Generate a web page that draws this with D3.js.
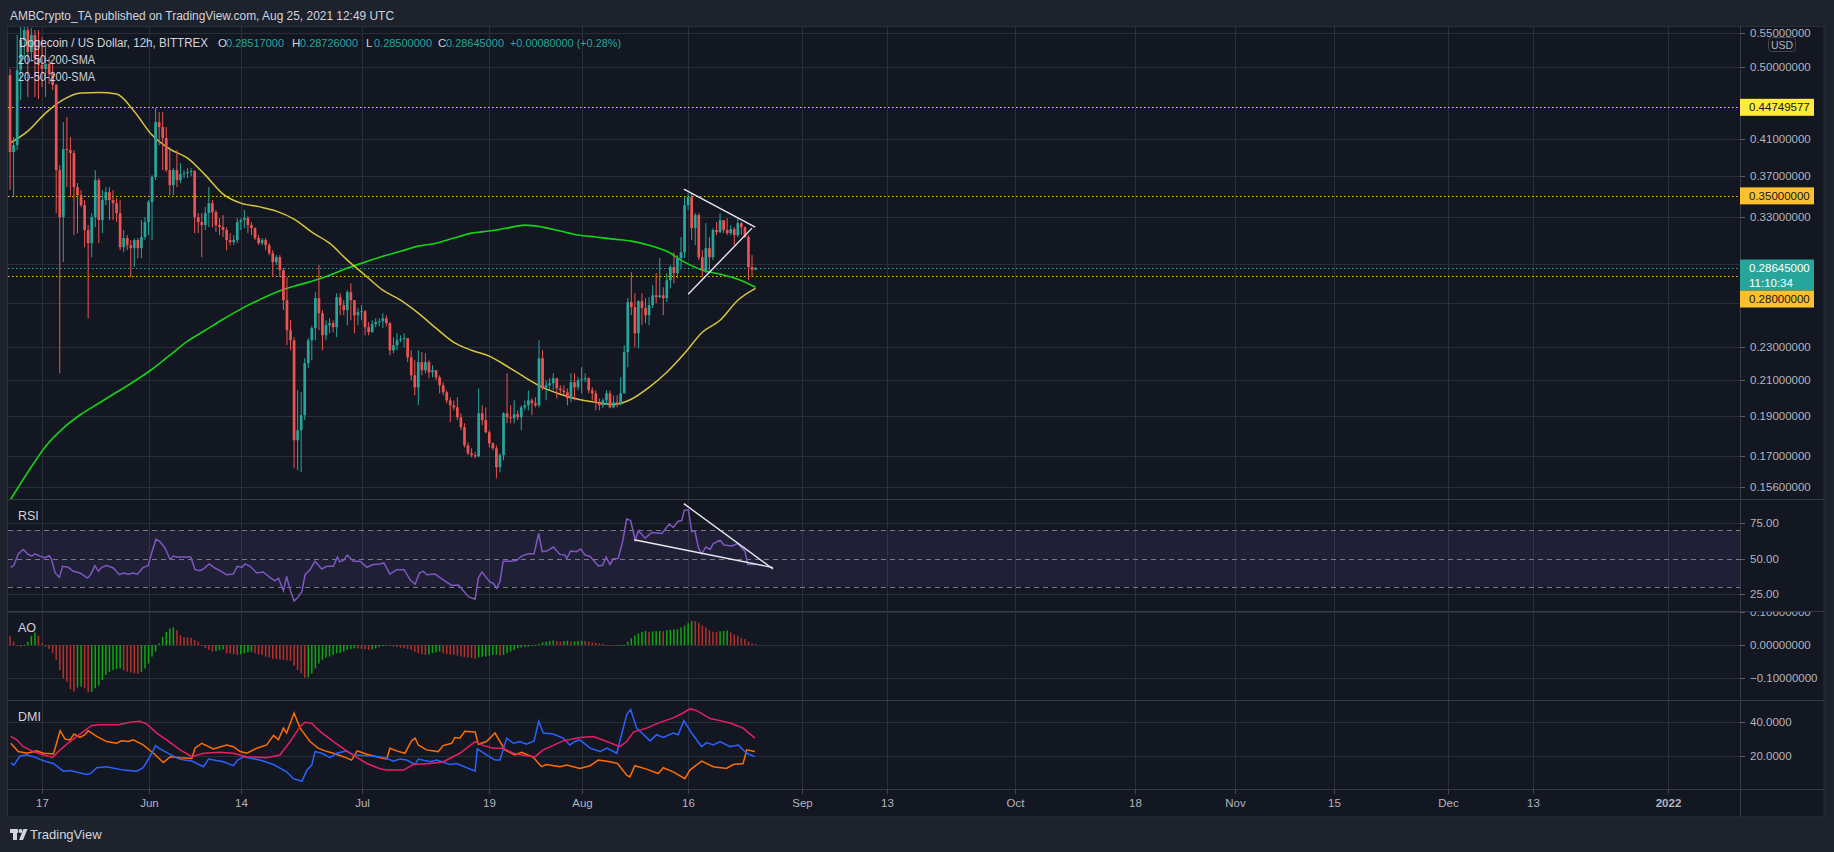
<!DOCTYPE html>
<html><head><meta charset="utf-8">
<script src="https://cdn.jsdelivr.net/npm/d3@7"></script>
<style>
html,body{margin:0;padding:0;background:#1e222d;overflow:hidden;}
svg{display:block;}
text{font-family:"Liberation Sans",Arial,sans-serif;}
</style></head><body>
<svg id="c" width="1834" height="852"></svg>
<script>
// ---------------- DATA ----------------
// 12h bars, bar 0 = 2021-05-12 12:00 UTC ... bar 210 = 2021-08-25 12:00 UTC
const firstOpen = 0.4895; // later opens = previous close (24/7 market)
const closes = [0.3952,0.4029,0.4964,0.5394,0.5546,0.5218,0.5470,0.5132,0.5033,0.4978,
0.5047,0.4909,0.4760,0.3759,0.3299,0.3985,0.3974,0.3941,0.3586,0.3507,
0.3411,0.3183,0.3069,0.3299,0.3656,0.3272,0.3459,0.3536,0.3459,0.3430,
0.3336,0.3035,0.3113,0.3052,0.3027,0.3096,0.3027,0.3122,0.3254,0.3440,
0.3687,0.4295,0.4236,0.4108,0.3759,0.3606,0.3759,0.3656,0.3718,0.3728,
0.3738,0.3749,0.3299,0.3254,0.3227,0.3336,0.3430,0.3345,0.3227,0.3209,
0.3183,0.3096,0.3078,0.3096,0.3254,0.3272,0.3290,0.3227,0.3200,0.3113,
0.3069,0.3096,0.3052,0.2985,0.2912,0.2952,0.2848,0.2620,0.2410,0.2344,
0.1776,0.1826,0.1904,0.2199,0.2344,0.2424,0.2635,0.2527,0.2377,0.2444,
0.2458,0.2431,0.2642,0.2584,0.2549,0.2679,0.2620,0.2513,0.2534,0.2541,
0.2431,0.2397,0.2451,0.2465,0.2471,0.2492,0.2458,0.2280,0.2312,0.2344,
0.2351,0.2358,0.2236,0.2127,0.2057,0.2206,0.2157,0.2206,0.2145,0.2157,
0.2115,0.2069,0.2029,0.1984,0.1957,0.1946,0.1893,0.1842,0.1751,0.1713,
0.1704,0.1699,0.1914,0.1878,0.1816,0.1761,0.1737,0.1648,0.1704,0.1914,
0.1893,0.1888,0.1909,0.1893,0.1946,0.1957,0.1984,0.1968,0.1957,0.2230,
0.2057,0.2069,0.2080,0.2110,0.2051,0.2040,0.2029,0.1995,0.2086,0.2057,
0.2098,0.2104,0.2110,0.2040,0.2023,0.1973,0.1957,0.1984,0.2023,0.1946,
0.1973,0.1962,0.2023,0.2268,0.2606,0.2570,0.2390,0.2613,0.2563,0.2513,
0.2584,0.2656,0.2642,0.2656,0.2635,0.2769,0.2872,0.2824,0.2944,0.2993,
0.3411,0.3488,0.3200,0.3318,0.2952,0.2848,0.3027,0.2952,0.3183,0.3165,
0.3272,0.3183,0.3156,0.3191,0.3139,0.3245,0.3209,0.3122,0.2872,0.28517,
0.28645];
const highs = [0.4978,0.4120,0.5470,0.5592,0.5700,0.5650,0.5577,0.5546,0.5546,0.5439,
0.5291,0.5146,0.5075,0.4774,0.3812,0.4295,0.4355,0.4120,0.3974,0.3626,
0.3556,0.3459,0.3227,0.3336,0.3759,0.3677,0.3556,0.3586,0.3586,0.3556,
0.3478,0.3459,0.3183,0.3139,0.3096,0.3110,0.3113,0.3272,0.3299,0.3459,
0.3707,0.4466,0.4416,0.4416,0.4236,0.4007,0.3780,0.3974,0.3833,0.3759,
0.3780,0.3780,0.3759,0.3336,0.3336,0.3392,0.3586,0.3459,0.3364,0.3290,
0.3318,0.3209,0.3156,0.3139,0.3290,0.3290,0.3364,0.3309,0.3254,0.3209,
0.3139,0.3113,0.3113,0.3069,0.3010,0.2969,0.2969,0.2864,0.2793,0.2478,
0.2364,0.2040,0.2029,0.2230,0.2358,0.2440,0.2679,0.2888,0.2549,0.2478,
0.2492,0.2478,0.2671,0.2671,0.2620,0.2694,0.2746,0.2620,0.2563,0.2584,
0.2549,0.2465,0.2478,0.2492,0.2492,0.2527,0.2513,0.2465,0.2364,0.2390,
0.2377,0.2390,0.2358,0.2280,0.2218,0.2280,0.2268,0.2261,0.2218,0.2187,
0.2157,0.2127,0.2086,0.2040,0.2001,0.1984,0.2001,0.1914,0.1862,0.1766,
0.1737,0.1718,0.2051,0.1957,0.1946,0.1826,0.1766,0.1751,0.1713,0.1920,
0.2139,0.1957,0.1984,0.1930,0.1957,0.1984,0.2040,0.1995,0.2001,0.2344,
0.2280,0.2098,0.2110,0.2139,0.2110,0.2069,0.2069,0.2051,0.2139,0.2139,
0.2115,0.2175,0.2139,0.2115,0.2057,0.2040,0.1995,0.1995,0.2040,0.2040,
0.2012,0.2012,0.2115,0.2312,0.2635,0.2832,0.2671,0.2620,0.2671,0.2635,
0.2642,0.2731,0.2824,0.2944,0.2716,0.2824,0.2888,0.2993,0.2969,0.3122,
0.3488,0.3526,0.3526,0.3336,0.3336,0.3010,0.3245,0.3122,0.3200,0.3254,
0.3336,0.3272,0.3290,0.3227,0.3209,0.3290,0.3254,0.3215,0.3139,0.2969,
0.28726];
const lows = [0.3556,0.3488,0.3974,0.4566,0.5103,0.4605,0.5103,0.4605,0.4579,0.4734,
0.4605,0.4774,0.4695,0.3336,0.2139,0.2912,0.3586,0.3488,0.3139,0.3156,
0.3392,0.3035,0.2492,0.2952,0.3209,0.3069,0.3156,0.3411,0.3272,0.3272,
0.3254,0.3010,0.2993,0.3010,0.2793,0.2872,0.2944,0.2944,0.3096,0.3139,
0.3096,0.3656,0.4029,0.3759,0.3740,0.3507,0.3507,0.3586,0.3626,0.3677,
0.3677,0.3697,0.3156,0.3156,0.2952,0.3183,0.3209,0.3209,0.3165,0.3139,
0.3122,0.3010,0.3052,0.3052,0.3069,0.3183,0.3200,0.3156,0.3139,0.3096,
0.3052,0.3052,0.3010,0.2969,0.2793,0.2888,0.2793,0.2549,0.2312,0.2280,
0.1643,0.1634,0.1625,0.1878,0.2169,0.2218,0.2344,0.2410,0.2280,0.2344,
0.2390,0.2397,0.2364,0.2513,0.2513,0.2444,0.2478,0.2390,0.2444,0.2478,
0.2377,0.2377,0.2397,0.2431,0.2437,0.2424,0.2437,0.2249,0.2261,0.2280,
0.2331,0.2299,0.2206,0.2098,0.2012,0.1957,0.2127,0.2139,0.2110,0.2115,
0.2098,0.2023,0.2012,0.1968,0.1867,0.1930,0.1878,0.1826,0.1742,0.1704,
0.1694,0.1689,0.1694,0.1852,0.1811,0.1742,0.1727,0.1598,0.1625,0.1680,
0.1862,0.1862,0.1862,0.1878,0.1826,0.1930,0.1930,0.1904,0.1946,0.1946,
0.2040,0.1984,0.2040,0.2040,0.1995,0.2023,0.2012,0.1957,0.1973,0.1984,
0.2040,0.2023,0.2086,0.2023,0.1984,0.1930,0.1930,0.1941,0.1957,0.1941,
0.1941,0.1946,0.1957,0.2023,0.2175,0.2513,0.2299,0.2293,0.2444,0.2458,
0.2444,0.2563,0.2598,0.2635,0.2513,0.2606,0.2708,0.2746,0.2785,0.2864,
0.2944,0.3364,0.3096,0.3052,0.2928,0.2793,0.2824,0.2848,0.2928,0.3139,
0.3156,0.3156,0.3139,0.3139,0.3052,0.3122,0.3139,0.3113,0.2769,0.2793,
0.2850];
// SMA lines, read every 5 bars (bar 0,5,...,210)
const sma50 = [0.4052,0.4189,0.4404,0.4572,0.4656,0.4662,0.4643,0.4423,0.4143,0.3985,
0.3886,0.3707,0.3517,0.3430,0.3397,0.3355,0.3281,0.3165,0.3069,0.2928,
0.2808,0.2694,0.2620,0.2527,0.2424,0.2331,0.2280,0.2243,0.2181,0.2115,
0.2057,0.2018,0.1990,0.1973,0.1962,0.1990,0.2057,0.2145,0.2261,0.2397,
0.2478,0.2620,0.2708];
const sma200 = [0.1503,0.1625,0.1746,0.1837,0.1909,0.1968,0.2029,0.2092,0.2163,0.2249,
0.2338,0.2410,0.2485,0.2556,0.2620,0.2679,0.2723,0.2761,0.2808,0.2864,
0.2912,0.2960,0.3001,0.3044,0.3069,0.3113,0.3156,0.3174,0.3200,0.3227,
0.3209,0.3174,0.3139,0.3122,0.3104,0.3087,0.3052,0.3001,0.2912,0.2848,
0.2816,0.2777,0.2716];
// RSI points [bar, value]
const rsi = [[0.2,43.8],[1.1,45.2],[2.3,53.3],[3.7,56.4],[5.1,52.9],[6.1,51.7],[7.0,53.3],[8.4,51.7],[9.8,50.5],[11.1,51.9],[11.7,49.3],[12.7,39.8],[13.9,36.7],[14.8,44.5],[16.4,43.8],[17.8,41.0],[19.7,39.8],[21.8,36.2],[22.7,38.6],[23.9,45.0],[24.9,41.0],[25.8,43.8],[27.2,45.0],[29.1,43.3],[30.8,38.6],[31.9,39.8],[33.3,39.0],[34.7,39.8],[35.9,39.0],[37.5,43.8],[38.9,45.0],[39.9,54.0],[41.1,63.6],[42.2,61.9],[43.6,57.6],[45.1,49.3],[46.0,51.7],[46.9,51.0],[48.4,51.0],[50.9,51.0],[52.1,42.1],[53.5,41.4],[54.6,42.9],[56.1,46.2],[57.7,43.3],[59.1,41.4],[61.0,38.6],[62.9,39.0],[64.0,44.5],[65.3,43.8],[66.2,46.2],[67.6,44.5],[69.5,39.8],[71.3,40.5],[73.2,36.7],[74.6,34.3],[75.6,36.2],[77.0,27.1],[77.9,37.4],[78.9,27.9],[80.0,20.0],[81.2,23.1],[82.2,26.7],[83.1,38.6],[84.5,42.1],[85.9,48.1],[87.8,42.6],[89.2,44.5],[91.1,44.5],[92.2,51.0],[92.9,47.6],[93.9,48.6],[95.0,52.4],[96.7,48.1],[98.6,48.1],[100.5,43.8],[102.3,45.7],[104.2,46.2],[105.3,46.9],[107.0,39.0],[108.9,42.1],[111.0,42.1],[112.7,35.0],[114.1,31.9],[115.3,39.8],[116.4,41.0],[117.4,38.6],[119.7,39.0],[122.0,35.0],[124.4,31.0],[126.3,31.4],[129.1,23.1],[131.0,21.4],[131.9,36.2],[132.9,40.5],[135.2,33.3],[136.1,32.6],[137.1,29.0],[138.0,33.8],[138.9,48.1],[140.8,48.1],[142.7,48.6],[144.1,51.7],[146.0,53.3],[147.6,53.3],[148.9,67.6],[149.9,54.8],[151.2,55.2],[153.0,58.1],[154.9,52.9],[156.3,52.4],[156.8,50.0],[157.9,55.2],[159.6,54.8],[160.7,56.7],[162.0,52.4],[163.4,51.4],[165.7,44.8],[166.9,45.2],[167.9,51.0],[169.0,45.7],[169.9,49.8],[171.3,50.0],[172.6,62.4],[173.7,77.9],[174.8,76.7],[176.1,62.9],[177.0,69.5],[178.9,64.3],[180.7,68.3],[183.6,67.6],[185.7,74.3],[186.8,71.9],[188.2,76.2],[189.2,76.7],[189.9,83.8],[191.1,84.3],[192.0,69.0],[192.9,69.5],[193.9,57.6],[194.8,53.3],[196.0,58.1],[197.2,56.4],[198.1,60.5],[200.0,62.9],[201.1,59.5],[203.3,58.8],[204.9,60.5],[207.0,55.2],[207.8,45.7],[210,45.7]];
// Awesome Oscillator, one value per bar
const ao = [0.028,0.010,-0.002,-0.005,-0.003,0.010,0.028,0.038,0.028,0.005,
-0.005,-0.012,-0.025,-0.045,-0.076,-0.101,-0.111,-0.134,-0.141,-0.129,
-0.126,-0.131,-0.143,-0.142,-0.131,-0.123,-0.106,-0.091,-0.081,-0.076,
-0.073,-0.071,-0.076,-0.081,-0.083,-0.086,-0.087,-0.081,-0.071,-0.056,
-0.035,-0.020,0.005,0.025,0.040,0.050,0.053,0.045,0.030,0.024,
0.023,0.022,0.015,0.010,0.000,-0.010,-0.015,-0.020,-0.019,-0.016,
-0.014,-0.025,-0.026,-0.028,-0.030,-0.028,-0.025,-0.022,-0.021,-0.025,
-0.028,-0.030,-0.035,-0.038,-0.042,-0.043,-0.044,-0.045,-0.046,-0.048,
-0.063,-0.076,-0.086,-0.099,-0.098,-0.086,-0.071,-0.056,-0.045,-0.038,
-0.035,-0.030,-0.025,-0.024,-0.020,-0.015,-0.012,-0.010,-0.011,-0.012,
-0.013,-0.015,-0.013,-0.010,-0.006,-0.003,-0.001,-0.002,-0.005,-0.006,
-0.008,-0.010,-0.012,-0.015,-0.020,-0.025,-0.028,-0.030,-0.029,-0.025,
-0.022,-0.020,-0.025,-0.028,-0.029,-0.030,-0.032,-0.035,-0.036,-0.038,
-0.039,-0.042,-0.038,-0.036,-0.035,-0.033,-0.030,-0.029,-0.032,-0.030,
-0.025,-0.020,-0.015,-0.010,-0.008,-0.006,-0.005,-0.002,0.000,0.003,
0.008,0.010,0.012,0.014,0.012,0.010,0.012,0.013,0.010,0.011,
0.012,0.013,0.012,0.010,0.008,0.007,0.005,0.003,0.000,-0.001,
-0.002,-0.003,-0.002,0.000,0.010,0.020,0.028,0.035,0.040,0.042,
0.040,0.041,0.042,0.043,0.042,0.045,0.046,0.047,0.048,0.053,
0.059,0.066,0.073,0.072,0.068,0.059,0.053,0.045,0.040,0.039,
0.042,0.043,0.044,0.038,0.032,0.028,0.022,0.018,0.010,0.005,
0.002];
// DMI points [bar, value]
const adx = [[0.2,31.5],[1.9,29.5],[3.7,25.5],[6.6,22.6],[9.4,20.6],[12.0,19.2],[14.1,23.6],[16.9,28.5],[19.7,32.9],[23.0,38.0],[25.3,38.4],[30.5,38.4],[33.8,39.8],[36.6,40.4],[38.5,38.8],[41.3,33.5],[44.1,29.5],[47.9,23.6],[51.2,19.6],[54.5,21.6],[59.1,22.2],[62.9,21.6],[66.7,19.6],[72.3,19.0],[76.0,20.6],[78.9,28.5],[81.7,37.4],[83.1,39.8],[85.0,39.2],[87.3,34.5],[91.1,28.5],[95.8,21.6],[100.5,15.6],[104.2,12.5],[106.1,11.7],[110.8,11.7],[113.6,15.0],[118.3,15.6],[122.0,16.6],[126.7,21.6],[131.0,28.5],[133.3,26.1],[136.1,24.6],[138.9,24.6],[141.8,21.6],[145.5,20.2],[147.9,19.6],[150.2,23.6],[155.8,28.9],[160.5,30.9],[164.3,31.5],[168.1,28.5],[171.8,25.5],[173.7,28.5],[175.6,34.1],[179.3,36.4],[183.1,39.8],[186.8,42.4],[189.6,45.3],[191.5,47.7],[193.4,46.7],[197.2,42.0],[200.0,40.8],[202.8,39.4],[206.5,36.4],[209.8,30.5]];
const plusDI = [[0.2,16.0],[1.1,14.7],[2.8,20.0],[4.7,20.6],[6.6,19.6],[8.4,18.0],[10.3,16.6],[12.2,15.6],[15.0,11.1],[16.9,11.5],[21.6,9.1],[22.7,9.7],[24.4,13.1],[27.2,13.7],[31.9,11.7],[35.7,11.1],[37.5,13.1],[39.4,19.6],[41.0,26.1],[42.2,24.2],[45.1,21.0],[47.9,18.0],[51.2,17.0],[54.5,13.7],[55.9,18.2],[60.1,16.6],[62.9,14.3],[64.0,17.4],[65.7,19.6],[70.4,17.6],[74.2,15.0],[77.9,10.7],[79.8,6.7],[82.2,5.1],[83.6,11.7],[85.0,14.7],[85.9,22.6],[87.8,21.6],[90.1,19.0],[92.0,21.6],[94.8,23.0],[96.7,20.6],[100.5,20.2],[104.2,19.6],[106.1,18.6],[108.0,17.0],[109.8,18.2],[111.7,17.6],[114.1,15.0],[115.0,18.2],[118.3,16.6],[120.2,17.6],[123.9,15.0],[125.8,15.6],[131.0,11.1],[131.6,24.2],[134.2,20.6],[136.6,17.6],[138.0,17.6],[139.9,30.5],[141.8,27.5],[143.6,28.5],[145.5,26.9],[147.6,28.9],[148.9,40.4],[150.2,33.5],[153.0,32.9],[155.8,30.5],[157.7,26.5],[159.1,28.5],[160.5,29.5],[163.4,24.6],[166.2,22.6],[168.1,24.6],[170.9,21.6],[173.7,44.4],[174.8,47.3],[176.5,36.4],[180.3,28.9],[182.1,32.5],[184.0,30.9],[186.8,33.5],[188.2,32.5],[189.8,40.8],[192.0,33.5],[194.8,25.5],[196.2,27.9],[198.1,26.5],[200.0,28.5],[202.8,25.5],[205.1,26.5],[207.5,21.6],[209.8,19.6]];
const minusDI = [[0.2,27.5],[2.3,22.6],[4.7,21.6],[7.5,23.0],[9.4,21.6],[12.2,21.2],[13.1,27.5],[14.1,34.9],[15.5,29.9],[16.9,29.5],[18.0,32.9],[19.7,30.9],[21.1,32.5],[22.0,34.9],[24.4,31.5],[27.2,28.5],[30.0,27.5],[31.4,28.9],[33.3,28.5],[34.7,29.5],[37.5,26.5],[40.4,21.6],[43.2,16.2],[45.1,19.6],[47.9,19.0],[51.2,18.6],[52.1,24.6],[54.0,27.5],[57.3,24.2],[61.0,26.5],[62.9,25.5],[64.8,22.6],[66.7,21.6],[69.5,24.6],[72.3,26.5],[74.2,32.1],[75.6,29.5],[77.0,36.4],[77.9,33.5],[80.0,45.3],[81.7,36.4],[84.5,28.5],[86.8,24.6],[88.7,23.0],[91.1,21.6],[93.9,19.6],[96.2,17.6],[97.8,23.0],[100.5,21.0],[103.3,19.6],[106.1,18.2],[107.0,24.6],[108.9,23.0],[111.2,21.6],[113.1,28.9],[114.1,30.5],[115.0,26.5],[117.3,23.6],[120.6,22.6],[122.0,26.1],[124.4,27.5],[125.3,30.9],[126.7,30.5],[128.1,34.5],[131.0,34.1],[131.9,26.9],[134.2,28.5],[136.6,33.5],[139.4,23.6],[142.2,20.6],[144.1,22.2],[147.4,19.2],[149.7,13.7],[151.1,15.0],[154.9,13.7],[156.8,14.7],[160.5,12.7],[163.4,14.3],[165.7,17.6],[169.0,16.6],[171.1,15.6],[173.7,8.7],[174.6,7.7],[176.0,14.3],[179.3,12.3],[182.6,9.7],[184.0,13.1],[186.8,10.7],[190.1,6.7],[191.5,11.7],[194.8,17.0],[198.1,13.7],[201.8,12.7],[203.7,15.0],[206.5,15.6],[207.5,23.6],[209.8,22.6]];
// drawn trend lines [[bar, value],[bar, value]]
const priceTrendUpper = [[189.8,0.3566],[209.9,0.3209]];
const priceTrendLower = [[191.0,0.2663],[209.0,0.3200]];
const rsiTrendUpper = [[189.8,88.6],[214.9,42.6]];
const rsiTrendLower = [[175.8,63.2],[214.9,43.6]];
// horizontal levels
const levelValues = [0.44749577, 0.35, 0.28];
const lastPrice = 0.28645;
const countdown = "11:10:34";
// axis ticks (0.26 label is hidden under the 0.28 tag in the reference; grid only)
const priceTicks = [0.156,0.17,0.19,0.21,0.23,0.26,0.29,0.33,0.37,0.41,0.50,0.55];
const priceLabelTicks = [0.156,0.17,0.19,0.21,0.23,0.29,0.33,0.37,0.41,0.50,0.55];
const rsiTicks = [25,50,75];
const aoTicks = [-0.1,0,0.1];
const dmiTicks = [20,40];
const dateTicks = [["2021-05-17","17"],["2021-06-01","Jun"],["2021-06-14","14"],["2021-07-01","Jul"],
["2021-07-19","19"],["2021-08-01","Aug"],["2021-08-16","16"],["2021-09-01","Sep"],["2021-09-13","13"],
["2021-10-01","Oct"],["2021-10-18","18"],["2021-11-01","Nov"],["2021-11-15","15"],["2021-12-01","Dec"],
["2021-12-13","13"],["2022-01-01","2022"]];
const legend = {title:"Dogecoin / US Dollar, 12h, BITTREX", o:"0.28517000", h:"0.28726000", l:"0.28500000", c:"0.28645000", chg:"+0.00080000 (+0.28%)"};
const header = "AMBCrypto_TA published on TradingView.com, Aug 25, 2021 12:49 UTC";

// ---------------- LAYOUT ----------------
const svg = d3.select("#c");
const L = 8, R = 1740, AXR = 1824;
const P = {price:[27,499], rsi:[499,611], ao:[611,700], dmi:[700,789]};
const T0 = Date.UTC(2021,4,12,12), HALF = 43200000;
const barDate = i => new Date(T0 + i*HALF);
const x = d3.scaleUtc().domain([barDate(-0.58), barDate(487.3)]).range([L, R]);
const y = d3.scaleLog().domain([0.156,0.55]).range([487,33]);
const yR = d3.scaleLinear().domain([25,75]).range([594,523]);
const yA = d3.scaleLinear().domain([-0.1,0.1]).range([678,612]);
const yD = d3.scaleLinear().domain([20,40]).range([756,722]);
const GRID = "#2a2e39", SEP = "#363a45", AXT = "#b2b5be";
const UP = "#26a69a", DN = "#ef5350";

svg.append("rect").attr("width",1834).attr("height",852).attr("fill","#1e222d");
svg.append("rect").attr("x",7.5).attr("y",26.5).attr("width",AXR-7.5).attr("height",817-26.5)
  .attr("fill","#131722").attr("stroke","#2a2e39");

const defs = svg.append("defs");
function clip(id, x0, y0, x1, y1){
  defs.append("clipPath").attr("id",id).append("rect").attr("x",x0).attr("y",y0).attr("width",x1-x0).attr("height",y1-y0);
  return "url(#"+id+")";
}
const cPrice = clip("cp", L, P.price[0], R, P.price[1]);
const cRsi = clip("cr", L, P.rsi[0], R, P.rsi[1]);
const cAo = clip("ca", L, P.ao[0], R, P.ao[1]);
const cDmi = clip("cd", L, P.dmi[0], R, P.dmi[1]);

// vertical grid
const g = svg.append("g");
dateTicks.forEach(([d]) => {
  const xx = Math.round(x(new Date(d+"T00:00:00Z")))+0.5;
  g.append("line").attr("x1",xx).attr("x2",xx).attr("y1",27).attr("y2",793).attr("stroke",GRID);
});
// horizontal grid
function hgrid(scale, ticks, clipUrl){
  const gg = svg.append("g").attr("clip-path",clipUrl);
  ticks.forEach(t => {
    const yy = Math.round(scale(t))+0.5;
    gg.append("line").attr("x1",L).attr("x2",R).attr("y1",yy).attr("y2",yy).attr("stroke",GRID);
  });
}
hgrid(y, priceTicks, cPrice);
hgrid(yR, [25,75], cRsi);
hgrid(yA, aoTicks, cAo);
hgrid(yD, dmiTicks, cDmi);

// ---------------- PRICE PANE ----------------
const gp = svg.append("g").attr("clip-path", cPrice);
const levelColors = ["#ffeb3b","#fbc02d","#fbc02d"];
levelValues.forEach((v,k) => {
  const yy = Math.round(y(v))+0.5;
  gp.append("line").attr("x1",L).attr("x2",R).attr("y1",yy).attr("y2",yy)
    .attr("stroke",levelColors[k]).attr("stroke-width",1.2).attr("stroke-dasharray","1.5,2.5");
});
{
  const yy = Math.round(y(lastPrice))+0.5;
  gp.append("line").attr("x1",L).attr("x2",R).attr("y1",yy).attr("y2",yy)
    .attr("stroke",UP).attr("stroke-width",1.2).attr("stroke-dasharray","1.5,2.5");
}
const smaLine = d3.line().x((d,k)=>x(barDate(k*5))).y(d=>y(d)).curve(d3.curveMonotoneX);
gp.append("path").attr("d",smaLine(sma200)).attr("fill","none").attr("stroke","#17d317").attr("stroke-width",1.6);
gp.append("path").attr("d",smaLine(sma50)).attr("fill","none").attr("stroke","#d6c63c").attr("stroke-width",1.5);
const bars = closes.map((c,i)=>({i, o: i===0?firstOpen:closes[i-1], h:highs[i], l:lows[i], c}));
const cg = gp.append("g");
bars.forEach(b => {
  const cx = x(barDate(b.i));
  const col = b.c >= b.o ? UP : DN;
  cg.append("line").attr("x1",cx).attr("x2",cx).attr("y1",y(b.h)).attr("y2",y(b.l)).attr("stroke",col).attr("stroke-width",1);
  const y0 = y(Math.max(b.o,b.c)), y1 = y(Math.min(b.o,b.c));
  cg.append("rect").attr("x",cx-1.35).attr("width",2.7).attr("y",y0).attr("height",Math.max(1,y1-y0)).attr("fill",col);
});
[priceTrendUpper, priceTrendLower].forEach(tl => {
  gp.append("line").attr("x1",x(barDate(tl[0][0]))).attr("y1",y(tl[0][1]))
    .attr("x2",x(barDate(tl[1][0]))).attr("y2",y(tl[1][1]))
    .attr("stroke","#e6e8ee").attr("stroke-width",1.4);
});

// ---------------- RSI PANE ----------------
const gr = svg.append("g").attr("clip-path", cRsi);
gr.append("rect").attr("x",L).attr("width",R-L).attr("y",yR(70)).attr("height",yR(30)-yR(70)).attr("fill","rgba(126,87,194,0.12)");
[70,50,30].forEach(v=>{
  const yy = Math.round(yR(v))+0.5;
  gr.append("line").attr("x1",L).attr("x2",R).attr("y1",yy).attr("y2",yy).attr("stroke","#787b86").attr("stroke-dasharray","5,4");
});
const ptLine = (sc) => d3.line().x(d=>x(barDate(d[0]))).y(d=>sc(d[1]));
gr.append("path").attr("d",ptLine(yR)(rsi)).attr("fill","none").attr("stroke","#7e57c2").attr("stroke-width",1.5);
[rsiTrendUpper, rsiTrendLower].forEach(tl => {
  gr.append("line").attr("x1",x(barDate(tl[0][0]))).attr("y1",yR(tl[0][1]))
    .attr("x2",x(barDate(tl[1][0]))).attr("y2",yR(tl[1][1]))
    .attr("stroke","#e6e8ee").attr("stroke-width",1.4);
});

// ---------------- AO PANE ----------------
const ga = svg.append("g").attr("clip-path", cAo);
ao.forEach((v,i)=>{
  const prev = i===0 ? Infinity : ao[i-1];
  const col = v >= prev ? "#11a611" : "#b7302b";
  const cx = x(barDate(i));
  const y0 = yA(Math.max(v,0)), y1 = yA(Math.min(v,0));
  ga.append("rect").attr("x",cx-0.75).attr("width",1.5).attr("y",y0).attr("height",Math.max(0.8,y1-y0)).attr("fill",col);
});

// ---------------- DMI PANE ----------------
const gd = svg.append("g").attr("clip-path", cDmi);
gd.append("path").attr("d",ptLine(yD)(minusDI)).attr("fill","none").attr("stroke","#ff6d00").attr("stroke-width",1.5);
gd.append("path").attr("d",ptLine(yD)(plusDI)).attr("fill","none").attr("stroke","#2962ff").attr("stroke-width",1.5);
gd.append("path").attr("d",ptLine(yD)(adx)).attr("fill","none").attr("stroke","#e91e63").attr("stroke-width",1.5);

[499,611,700,789].forEach(yy=>{
  svg.append("line").attr("x1",L).attr("x2",AXR).attr("y1",yy+0.5).attr("y2",yy+0.5).attr("stroke",SEP);
});
svg.append("line").attr("x1",R+0.5).attr("x2",R+0.5).attr("y1",27).attr("y2",817).attr("stroke",SEP);

// ---------------- AXES ----------------
function axisLabels(scale, ticks, labelTicks, fmt, y0, y1, clipBottom){
  const cid = "ax"+y0;
  const ag = svg.append("g").attr("clip-path", clip(cid, R, y0+1, AXR, y1));
  ticks.forEach(t=>{
    const yy = scale(t);
    ag.append("line").attr("x1",R).attr("x2",R+5).attr("y1",Math.round(yy)+0.5).attr("y2",Math.round(yy)+0.5).attr("stroke","#5d606b");
  });
  labelTicks.forEach(t=>{
    const yy = scale(t);
    ag.append("text").attr("x",1750).attr("y",yy+4).attr("fill",AXT).attr("font-size",11.5).text(fmt(t));
  });
}
axisLabels(y, priceTicks, priceLabelTicks, d=>d.toFixed(8), P.price[0], P.price[1]);
axisLabels(yR, rsiTicks, rsiTicks, d=>d.toFixed(2), P.rsi[0], P.rsi[1]);
axisLabels(yA, aoTicks, aoTicks, d=>(d<0?"\u2212":"")+Math.abs(d).toFixed(8), P.ao[0], P.ao[1]);
axisLabels(yD, dmiTicks, dmiTicks, d=>d.toFixed(4), P.dmi[0], P.dmi[1]);

dateTicks.forEach(([d,lab])=>{
  const xx = Math.round(x(new Date(d+"T00:00:00Z")))+0.5;
  svg.append("line").attr("x1",xx).attr("x2",xx).attr("y1",789).attr("y2",794).attr("stroke","#434651");
  svg.append("text").attr("x",xx).attr("y",807).attr("text-anchor","middle").attr("fill",AXT)
    .attr("font-size",11.5).attr("font-weight",lab==="2022"?"bold":"normal").text(lab);
});

// price tags (stacked to avoid overlap)
const tags = [
  {v:levelValues[0], bg:"#ffeb3b", fg:"#131722", lines:[levelValues[0].toFixed(8)]},
  {v:levelValues[1], bg:"#fbc02d", fg:"#131722", lines:[levelValues[1].toFixed(8)]},
  {v:lastPrice, bg:UP, fg:"#ffffff", lines:[lastPrice.toFixed(8), countdown]},
  {v:levelValues[2], bg:"#fbc02d", fg:"#131722", lines:[levelValues[2].toFixed(8)]},
];
tags.forEach(t=>{ t.h = t.lines.length===1 ? 17 : 31; t.top = y(t.v) - 8.5; });
tags.sort((a,b)=>a.top-b.top);
for(let k=1;k<tags.length;k++){ const pr=tags[k-1]; if(tags[k].top < pr.top+pr.h) tags[k].top = pr.top+pr.h; }
tags.forEach(t=>{
  svg.append("rect").attr("x",R).attr("y",t.top).attr("width",74).attr("height",t.h).attr("fill",t.bg);
  t.lines.forEach((s,k)=>{
    svg.append("text").attr("x",1749).attr("y",t.top+12.5+k*15).attr("fill",t.fg).attr("font-size",11.5).text(s);
  });
});

svg.append("rect").attr("x",1768.5).attr("y",37.5).attr("width",27).attr("height",14).attr("rx",3)
  .attr("fill","#131722").attr("stroke","#434651");
svg.append("text").attr("x",1782).attr("y",48.5).attr("text-anchor","middle").attr("fill",AXT).attr("font-size",10.5).text("USD");

// ---------------- TEXTS ----------------
svg.append("text").attr("x",10).attr("y",19.5).attr("fill","#d1d4dc").attr("font-size",12.5)
  .attr("textLength",384).attr("lengthAdjust","spacingAndGlyphs").text(header);
const lg = svg.append("g");
lg.append("text").attr("x",19).attr("y",47).attr("fill","#d1d4dc").attr("font-size",12)
  .attr("textLength",189).attr("lengthAdjust","spacingAndGlyphs").text(legend.title);
[["O",218,legend.o],["H",292,legend.h],["L",366,legend.l],["C",438,legend.c]].forEach(([k,xx,v])=>{
  lg.append("text").attr("x",xx).attr("y",47).attr("fill","#d1d4dc").attr("font-size",11.5).text(k);
  lg.append("text").attr("x",xx+8).attr("y",47).attr("fill",UP).attr("font-size",11.5)
    .attr("textLength",58).attr("lengthAdjust","spacingAndGlyphs").text(v);
});
lg.append("text").attr("x",510).attr("y",47).attr("fill",UP).attr("font-size",11.5)
  .attr("textLength",111).attr("lengthAdjust","spacingAndGlyphs").text(legend.chg);
[64,81].forEach(yy=>{
  lg.append("text").attr("x",18).attr("y",yy).attr("fill","#d1d4dc").attr("font-size",12)
    .attr("textLength",77).attr("lengthAdjust","spacingAndGlyphs").text("20-50-200-SMA");
});
[["RSI",520],["AO",632],["DMI",721]].forEach(([s,yy])=>{
  svg.append("text").attr("x",18).attr("y",yy).attr("fill","#d1d4dc").attr("font-size",12.5).text(s);
});

const fg = svg.append("g").attr("fill","#d1d4dc");
fg.append("rect").attr("x",10).attr("y",829).attr("width",8).attr("height",4);
fg.append("rect").attr("x",13).attr("y",829).attr("width",4).attr("height",11);
fg.append("circle").attr("cx",20.5).attr("cy",831).attr("r",2);
fg.append("polygon").attr("points","19,840 23.5,829 27.5,829 23,840");
fg.append("text").attr("x",30).attr("y",839).attr("font-size",13).text("TradingView");
</script>
</body></html>
